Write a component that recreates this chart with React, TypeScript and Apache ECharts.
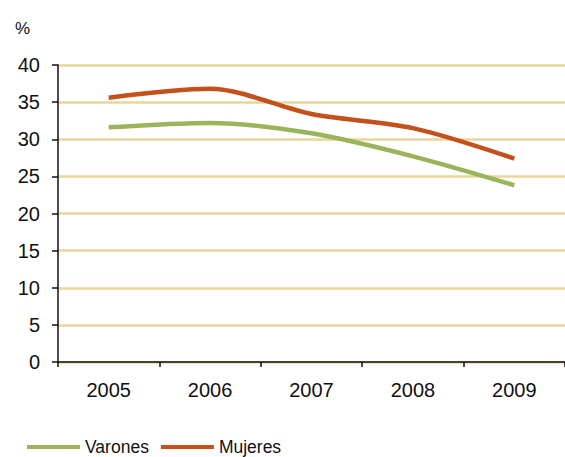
import React, { useEffect, useRef } from "react";
import * as echarts from "echarts";

const years = ["2005", "2006", "2007", "2008", "2009"];
const varones = [31.6, 32.2, 30.8, 27.7, 23.8];
const mujeres = [35.6, 36.8, 33.4, 31.5, 27.4];
const yTicks = { min: 0, max: 40, interval: 5 };

const FONT = "Liberation Sans, Arial, sans-serif";
const GREEN = "#9bb45a";
const ORANGE = "#c4511b";

export default function App() {
  const ref = useRef<HTMLDivElement>(null);
  useEffect(() => {
    document.body.style.margin = "0";
    const chart = echarts.init(ref.current!, null, { renderer: "svg" });
    chart.setOption({
      animation: false,
      backgroundColor: "#ffffff",
      textStyle: { fontFamily: FONT },
      grid: { left: 58, top: 65, width: 511, height: 297 },
      graphic: [
        {
          type: "text",
          left: 15,
          top: 20,
          style: { text: "%", font: `17px ${FONT}`, fill: "#111" },
        },
      ],
      legend: {
        left: 27,
        top: 438,
        padding: 0,
        itemWidth: 53,
        itemHeight: 4,
        itemGap: 12,
        icon: "rect",
        textStyle: {
          fontSize: 17.5,
          lineHeight: 18,
          color: "#111",
          fontFamily: FONT,
          padding: [0, 0, 0, 0],
        },
        data: [
          { name: "Varones", itemStyle: { color: GREEN } },
          { name: "Mujeres", itemStyle: { color: ORANGE } },
        ],
      },
      xAxis: {
        type: "category",
        data: years,
        boundaryGap: true,
        axisLine: { lineStyle: { color: "#111", width: 1.5 } },
        axisTick: { show: true, length: 5, inside: false, lineStyle: { color: "#111", width: 1.5 } },
        axisLabel: { fontSize: 20, color: "#111", margin: 18, fontFamily: FONT },
        splitLine: { show: false },
      },
      yAxis: {
        type: "value",
        min: yTicks.min,
        max: yTicks.max,
        interval: yTicks.interval,
        axisLine: { show: true, lineStyle: { color: "#111", width: 1.5 } },
        axisTick: { show: true, length: 6, lineStyle: { color: "#111", width: 1.5 } },
        axisLabel: { fontSize: 20, color: "#111", margin: 18, fontFamily: FONT },
        splitLine: { show: true, lineStyle: { color: "#e8d69c", width: 2.5 } },
      },
      series: [
        {
          name: "Varones",
          type: "line",
          data: varones,
          smooth: 0.3,
          symbol: "none",
          lineStyle: { color: GREEN, width: 4.5 },
          itemStyle: { color: GREEN },
        },
        {
          name: "Mujeres",
          type: "line",
          data: mujeres,
          smooth: 0.3,
          symbol: "none",
          lineStyle: { color: ORANGE, width: 4.5 },
          itemStyle: { color: ORANGE },
        },
      ],
    });
    return () => chart.dispose();
  }, []);
  return (
    <div
      ref={ref}
      style={{ position: "absolute", left: 0, top: 0, width: 565, height: 457 }}
    />
  );
}
